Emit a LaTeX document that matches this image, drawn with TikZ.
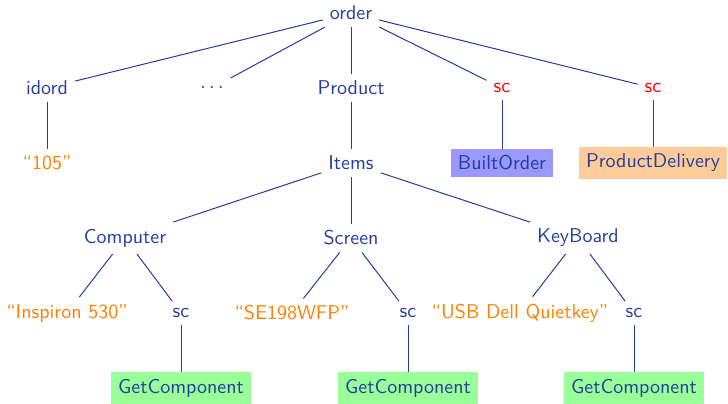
\documentclass[tikz,border=0pt]{standalone}
\definecolor{tblue}{RGB}{36,62,158}
\definecolor{torange}{RGB}{255,128,0}
\definecolor{tred}{RGB}{255,0,0}
\definecolor{lblue}{RGB}{153,153,255}
\definecolor{lorange}{RGB}{255,204,153}
\definecolor{lgreen}{RGB}{153,255,153}
\tikzset{
  lbl/.style={text=tblue, font=\sffamily},
  val/.style={text=torange, font=\sffamily},
  scr/.style={text=tred, font=\sffamily},
  svc/.style={text=tblue, font=\sffamily, fill=#1},
  edge/.style={draw=tblue, line width=0.5pt}
}
\begin{document}
\begin{tikzpicture}[x=0.5pt, y=-0.5pt]
\useasboundingbox (0,0) rectangle (728,403);
\node[lbl] (order) at (351,13) {order};
\node[lbl] (idord) at (47,88) {idord};
\node[lbl] (dots) at (212,88) {$\cdots$};
\node[lbl] (product) at (351,88) {Product};
\node[scr] (sc1) at (502,88) {sc};
\node[scr] (sc2) at (653,88) {sc};
\node[val] (v105) at (47,163) {``105''};
\node[lbl] (items) at (351,163) {Items};
\node[svc=lblue] (built) at (502,163) {BuiltOrder};
\node[svc=lorange] (pdel) at (653,163) {ProductDelivery};
\node[lbl] (computer) at (125,238) {Computer};
\node[lbl] (screen) at (351,238) {Screen};
\node[lbl] (keyboard) at (578,238) {KeyBoard};
\node[val] (insp) at (67,313) {``Inspiron 530''};
\node[lbl] (sc3) at (181,313) {sc};
\node[val] (se) at (292,313) {``SE198WFP''};
\node[lbl] (sc4) at (408,313) {sc};
\node[val] (usb) at (520,313) {``USB Dell Quietkey''};
\node[lbl] (sc5) at (634,313) {sc};
\node[svc=lgreen] (gc1) at (181,388) {GetComponent};
\node[svc=lgreen] (gc2) at (408,388) {GetComponent};
\node[svc=lgreen] (gc3) at (634,388) {GetComponent};
\draw[edge] (order) -- (idord);
\draw[edge] (order) -- (dots);
\draw[edge] (order) -- (product);
\draw[edge] (order) -- (sc1);
\draw[edge] (order) -- (sc2);
\draw[edge] (idord) -- (v105);
\draw[edge] (product) -- (items);
\draw[edge] (sc1) -- (built);
\draw[edge] (sc2) -- (pdel);
\draw[edge] (items) -- (computer);
\draw[edge] (items) -- (screen);
\draw[edge] (items) -- (keyboard);
\draw[edge] (computer) -- (insp);
\draw[edge] (computer) -- (sc3);
\draw[edge] (screen) -- (se);
\draw[edge] (screen) -- (sc4);
\draw[edge] (keyboard) -- (usb);
\draw[edge] (keyboard) -- (sc5);
\draw[edge] (sc3) -- (gc1);
\draw[edge] (sc4) -- (gc2);
\draw[edge] (sc5) -- (gc3);
\end{tikzpicture}
\end{document}
